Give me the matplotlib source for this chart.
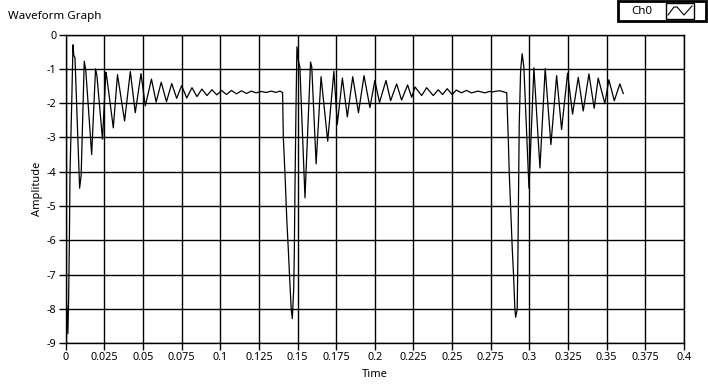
import matplotlib
matplotlib.use("Agg")
import matplotlib.pyplot as plt
from matplotlib.patches import Rectangle
from matplotlib.lines import Line2D

plt.rcParams['font.family'] = ['Noto Sans', 'DejaVu Sans']
plt.rcParams['axes.unicode_minus'] = False

# Ch0 samples (time in s, amplitude)
time = [
    0.0000, 0.0004, 0.0008, 0.0014, 0.0019, 0.0024, 0.0028, 0.0040, 0.0047, 0.0052,
    0.0060, 0.0090, 0.0100, 0.0120, 0.0130, 0.0168, 0.0193, 0.0202, 0.0238, 0.0260,
    0.0266, 0.0308, 0.0335, 0.0381, 0.0418, 0.0450, 0.0487, 0.0515, 0.0555, 0.0585,
    0.0618, 0.0652, 0.0686, 0.0718, 0.0750, 0.0783, 0.0817, 0.0849, 0.0881, 0.0914,
    0.0946, 0.0978, 0.1008, 0.1040, 0.1072, 0.1105, 0.1137, 0.1170, 0.1200, 0.1232,
    0.1265, 0.1297, 0.1330, 0.1360, 0.1385, 0.1403,
    0.1408, 0.1418, 0.1431, 0.1440, 0.1449, 0.1459, 0.1466, 0.1475, 0.1479, 0.1483,
    0.1490, 0.1496, 0.1505, 0.1515, 0.1548, 0.1584, 0.1592, 0.1620, 0.1652, 0.1695,
    0.1735, 0.1757, 0.1790, 0.1822, 0.1857, 0.1894, 0.1930, 0.1968, 0.2000, 0.2030,
    0.2072, 0.2102, 0.2141, 0.2173, 0.2212, 0.2238, 0.2260, 0.2303, 0.2335, 0.2378,
    0.2410, 0.2438, 0.2468, 0.2500, 0.2527, 0.2560, 0.2593, 0.2625, 0.2668, 0.2712,
    0.2742, 0.2766, 0.2788, 0.2809, 0.2830, 0.2853,
    0.2863, 0.2870, 0.2889, 0.2898, 0.2906, 0.2911, 0.2921, 0.2926, 0.2934, 0.2943,
    0.2953, 0.2964, 0.2997, 0.3029, 0.3068, 0.3102, 0.3139, 0.3176, 0.3208, 0.3247,
    0.3279, 0.3316, 0.3348, 0.3385, 0.3419, 0.3445, 0.3488, 0.3514, 0.3549, 0.3585,
    0.3607,
]
amplitude = [
    -7.40, -7.75, -8.05, -8.72, -7.70, -5.90, -4.00, -1.80, -0.30, -0.60,
    -0.68, -4.48, -4.10, -0.78, -1.05, -3.50, -1.00, -1.20, -3.05, -1.10,
    -1.25, -2.72, -1.17, -2.52, -1.08, -2.28, -1.14, -2.08, -1.30, -1.97,
    -1.39, -1.96, -1.43, -1.86, -1.49, -1.85, -1.55, -1.81, -1.59, -1.78,
    -1.61, -1.76, -1.63, -1.75, -1.63, -1.73, -1.64, -1.72, -1.65, -1.70,
    -1.66, -1.69, -1.65, -1.69, -1.65, -1.69,
    -3.01, -3.99, -5.46, -6.25, -7.13, -8.01, -8.28, -7.42, -6.34, -4.58,
    -2.08, -0.36, -0.76, -0.95, -4.76, -0.80, -0.95, -3.77, -1.23, -3.11,
    -1.07, -2.62, -1.27, -2.40, -1.23, -2.28, -1.20, -2.13, -1.34, -1.98,
    -1.34, -1.93, -1.44, -1.91, -1.47, -1.83, -1.53, -1.78, -1.55, -1.78,
    -1.61, -1.75, -1.58, -1.75, -1.62, -1.70, -1.63, -1.70, -1.65, -1.70,
    -1.66, -1.67, -1.65, -1.64, -1.67, -1.70,
    -3.01, -4.09, -6.25, -7.08, -8.01, -8.24, -8.01, -6.25, -2.62, -1.05,
    -0.56, -0.95, -4.48, -0.97, -3.89, -0.99, -3.21, -1.20, -2.77, -1.13,
    -2.32, -1.25, -2.23, -1.15, -2.15, -1.27, -2.01, -1.32, -1.93, -1.44,
    -1.72,
]

x_ticks = [0, 0.025, 0.05, 0.075, 0.1, 0.125, 0.15, 0.175, 0.2, 0.225,
           0.25, 0.275, 0.3, 0.325, 0.35, 0.375, 0.4]
x_labels = ['0', '0.025', '0.05', '0.075', '0.1', '0.125', '0.15', '0.175', '0.2',
            '0.225', '0.25', '0.275', '0.3', '0.325', '0.35', '0.375', '0.4']
y_ticks = [0, -1, -2, -3, -4, -5, -6, -7, -8, -9]

W, H = 708, 385
fig = plt.figure(figsize=(W / 100, H / 100), dpi=100)
ax = fig.add_axes([65.7 / W, 1 - 343.3 / H, 618.3 / W, 308.8 / H])

ax.plot(time, amplitude, color='black', lw=0.9)

ax.set_xlim(0, 0.4)
ax.set_ylim(-9, 0)
ax.set_xticks(x_ticks)
ax.set_xticklabels(x_labels)
ax.set_yticks(y_ticks)
ax.set_yticklabels([str(v) for v in y_ticks])
ax.grid(True, color='black', lw=1.0)
ax.tick_params(direction='out', length=5, width=1, labelsize=7.8, pad=1.5, color='black')
for s in ax.spines.values():
    s.set_linewidth(1.0)
ax.set_xlabel('Time', fontsize=8, labelpad=4)
ax.set_ylabel('Amplitude', fontsize=8, labelpad=2.5)

fig.text(8 / W, 1 - 16 / H, 'Waveform Graph', fontsize=8.3, va='center', ha='left')


# legend plate in the top right corner (pixel coordinates -> figure fraction)
def px(x, y):
    return x / W, 1 - y / H


fig.add_artist(Rectangle(px(618, 21), 88 / W, 20 / H, transform=fig.transFigure,
                         facecolor='white', edgecolor='black', lw=2))
fig.add_artist(Rectangle(px(666, 18.5), 28 / W, 15.5 / H, transform=fig.transFigure,
                         facecolor='white', edgecolor='black', lw=1))
icon_x = [668, 674, 677, 684, 692]
icon_y = [15, 7, 7, 15, 6]
fig.add_artist(Line2D([v / W for v in icon_x], [1 - v / H for v in icon_y],
                      transform=fig.transFigure, color='black', lw=0.8))
fig.text(*px(642, 11.5), 'Ch0', fontsize=8.3, ha='center', va='center')

fig.savefig('out.png', dpi=100)
